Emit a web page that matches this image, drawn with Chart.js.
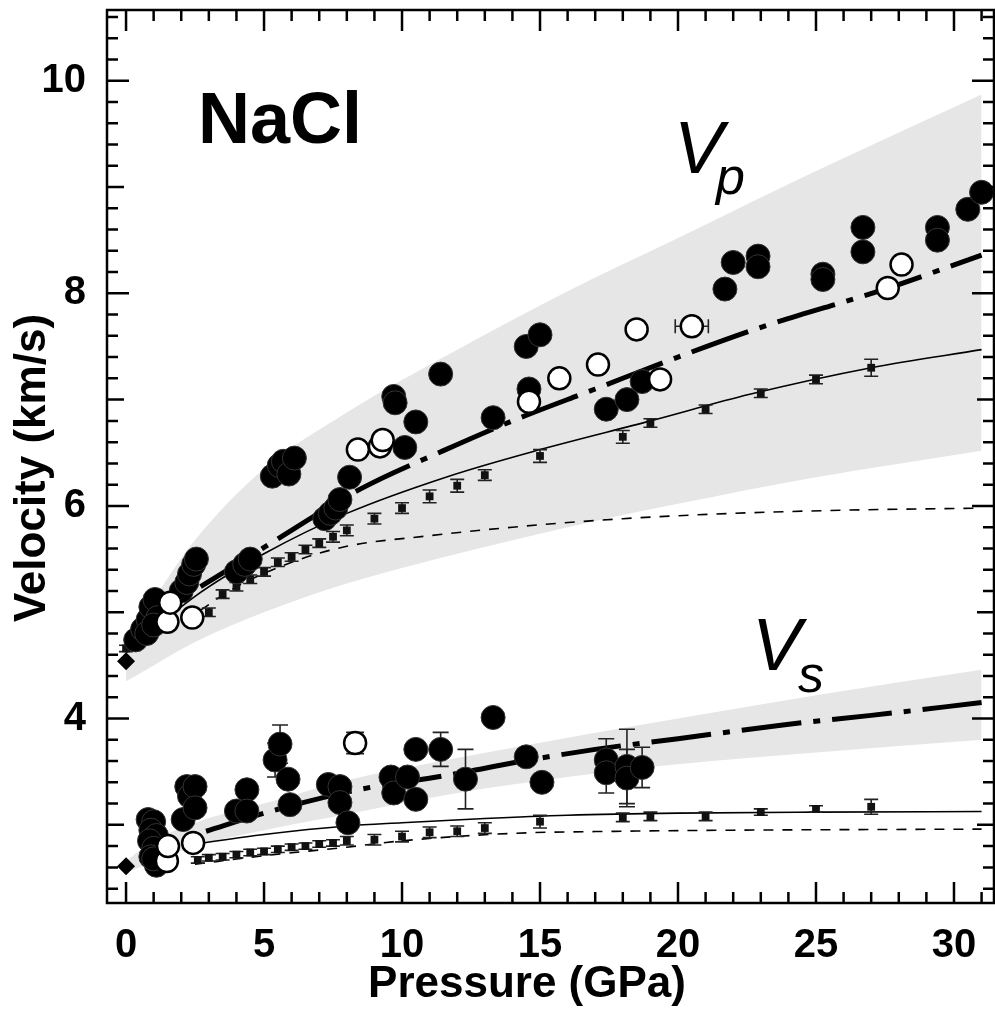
<!DOCTYPE html>
<html>
<head>
<meta charset="utf-8">
<script src="https://cdn.jsdelivr.net/npm/chart.js@4.4.0/dist/chart.umd.min.js"></script>
<style>
  html, body { margin: 0; padding: 0; background: #fff; overflow: hidden; }
  canvas { display: block; }
</style>
</head>
<body>
<canvas id="myChart" width="995" height="1011"></canvas>
<script>
// ---- data (Pressure GPa, Velocity km/s) ----
const xTicks = [0, 5, 10, 15, 20, 25, 30];
const yTicks = [4, 6, 8, 10];

// shaded uncertainty bands
const vpBandX = [0, 1, 2.5, 5, 8, 12, 16, 20, 25, 31];
const vpBandLow = [4.35, 4.5, 4.72, 5.0, 5.27, 5.55, 5.8, 6.02, 6.27, 6.52];
const vpBandHigh = [4.7, 5.12, 5.68, 6.35, 6.88, 7.47, 8.02, 8.52, 9.15, 9.87];
const vsBandX = [0, 1, 2.5, 5, 8, 12, 16, 20, 25, 31];
const vsBandLow = [2.55, 2.65, 2.8, 2.95, 3.1, 3.3, 3.45, 3.57, 3.68, 3.8];
const vsBandHigh = [2.66, 2.85, 3.02, 3.2, 3.42, 3.63, 3.82, 4.0, 4.22, 4.46];

// curves
const vpFitX = [2.7, 5, 8.5, 11.5, 14, 17, 20, 23, 27.5, 31];
const vpFit = [5.24, 5.61, 6.16, 6.52, 6.8, 7.1, 7.4, 7.68, 8.04, 8.36];
const vpSolidX = [0, 2.5, 5, 8, 11.7, 15, 19, 22.6, 27, 31];
const vpSolid = [4.62, 5.15, 5.55, 5.93, 6.28, 6.53, 6.8, 7.05, 7.3, 7.47];
const vpDashX = [2.7, 4, 6, 8, 11, 14, 18, 22, 26, 31];
const vpDash = [5.02, 5.24, 5.47, 5.62, 5.72, 5.8, 5.88, 5.93, 5.96, 5.98];
const vsFitX = [2.9, 5, 8.4, 11.5, 14.4, 17, 20, 23.8, 27, 31];
const vsFit = [2.94, 3.11, 3.33, 3.46, 3.6, 3.71, 3.81, 3.94, 4.03, 4.15];
const vsSolidX = [2.5, 5, 8, 10, 13, 16, 20, 25, 31];
const vsSolid = [2.82, 2.91, 2.99, 3.02, 3.06, 3.09, 3.11, 3.12, 3.125];
const vsDashX = [2.5, 5, 8, 10, 14, 18, 22, 26, 31];
const vsDash = [2.63, 2.71, 2.79, 2.85, 2.92, 2.94, 2.95, 2.955, 2.96];

// small squares with error bars
const sqVpX = [0, 3, 3.5, 4, 4.5, 5, 5.5, 6, 6.5, 7, 7.5, 8, 9, 10, 11, 12, 13, 15, 18, 19, 21, 23, 25, 27];
const sqVp = [4.66, 5.0, 5.17, 5.24, 5.31, 5.38, 5.47, 5.52, 5.59, 5.65, 5.71, 5.77, 5.88, 5.98, 6.09, 6.19, 6.29, 6.47, 6.65, 6.78, 6.91, 7.06, 7.19, 7.3];
const sqVpErr = [0.03, 0.04, 0.04, 0.04, 0.04, 0.04, 0.04, 0.04, 0.04, 0.04, 0.05, 0.05, 0.05, 0.05, 0.06, 0.06, 0.05, 0.06, 0.06, 0.04, 0.04, 0.04, 0.04, 0.08];
const sqVsX = [2.6, 3, 3.5, 4, 4.5, 5, 5.5, 6, 6.5, 7, 7.5, 8, 9, 10, 11, 12, 13, 15, 18, 19, 21, 23, 25, 27];
const sqVs = [2.67, 2.69, 2.7, 2.72, 2.74, 2.75, 2.77, 2.79, 2.8, 2.82, 2.83, 2.85, 2.86, 2.89, 2.93, 2.94, 2.97, 3.03, 3.07, 3.08, 3.08, 3.12, 3.15, 3.17];
const sqVsErr = [0.03, 0.03, 0.03, 0.03, 0.03, 0.03, 0.03, 0.03, 0.03, 0.03, 0.03, 0.04, 0.05, 0.05, 0.05, 0.05, 0.05, 0.06, 0.04, 0.04, 0.04, 0.03, 0.03, 0.07];

// ambient points (diamonds)
const diaX = [0, 0];
const diaY = [4.54, 2.61];

// filled circles
const vpFilledX = [0.35, 0.6, 0.8, 0.9, 1.05, 1.15, 0.75, 1.0, 2.0, 2.2, 2.3, 2.45, 2.55, 4.0, 4.3, 4.5, 5.3, 5.55, 5.7, 5.9, 6.1, 7.2, 7.4, 7.6, 7.75, 8.1, 9.7, 9.75, 10.1, 10.5, 11.4, 13.3, 14.5, 15.0, 14.6, 17.4, 18.15, 18.7, 21.7, 22.0, 22.9, 22.9, 25.25, 25.25, 26.7, 26.7, 29.4, 29.4, 30.5, 31.0];
const vpFilled = [4.74, 4.84, 4.93, 5.05, 5.12, 4.95, 4.8, 4.88, 5.2, 5.28, 5.36, 5.45, 5.5, 5.38, 5.45, 5.5, 6.28, 6.38, 6.42, 6.3, 6.45, 5.88, 5.93, 5.98, 6.06, 6.27, 7.03, 6.97, 6.55, 6.79, 7.24, 6.83, 7.5, 7.61, 7.1, 6.91, 7.0, 7.17, 8.04, 8.29, 8.35, 8.25, 8.18, 8.13, 8.62, 8.39, 8.62, 8.5, 8.79, 8.95];
const vsFilledX = [0.8, 1.0, 0.9, 1.1, 0.85, 1.0, 0.9, 1.1, 1.0, 2.07, 2.2, 2.3, 2.5, 2.5, 4.0, 4.38, 4.38, 5.4, 5.58, 5.87, 5.94, 7.33, 7.75, 7.75, 8.04, 9.6, 9.7, 10.2, 10.5, 10.5, 11.4, 12.3, 13.3, 14.5, 15.07, 17.4, 17.4, 18.15, 18.15, 18.7];
const vsFilled = [3.05, 3.03, 2.95, 2.9, 2.85, 2.78, 2.7, 2.62, 2.68, 3.05, 3.36, 3.27, 3.36, 3.16, 3.13, 3.33, 3.13, 3.61, 3.76, 3.43, 3.19, 3.38, 3.36, 3.21, 3.02, 3.45, 3.3, 3.45, 3.24, 3.71, 3.71, 3.43, 4.01, 3.64, 3.4, 3.61, 3.49, 3.55, 3.44, 3.54];
const vsFilledErr = [0, 0, 0, 0, 0, 0, 0, 0, 0, 0, 0, 0, 0, 0, 0, 0, 0, 0.16, 0.18, 0, 0, 0, 0, 0, 0, 0, 0, 0, 0, 0, 0.16, 0.28, 0, 0, 0, 0.2, 0.19, 0.35, 0.27, 0.19];

// open circles
const vpOpenX = [1.5, 1.6, 2.4, 8.4, 9.2, 9.3, 14.6, 15.7, 17.1, 18.5, 19.35, 20.5, 27.6, 28.1];
const vpOpen = [4.91, 5.09, 4.95, 6.53, 6.56, 6.62, 6.98, 7.2, 7.33, 7.66, 7.19, 7.69, 8.05, 8.27];
const vpOpenErrX = [0, 0, 0, 0, 0, 0, 0, 0, 0, 0, 0, 0.6, 0, 0];
const vsOpenX = [1.48, 1.52, 2.43, 8.3];
const vsOpen = [2.66, 2.8, 2.83, 3.77];
const vsOpenErr = [0, 0, 0, 0.1];

const FONT = '"Liberation Sans", Arial, Helvetica, sans-serif';
const BAND = '#e6e6e6';

const pts = (xs, ys) => xs.map((x, i) => ({ x: x, y: ys[i] }));

const bandLow = (xs, ys) => ({
  data: pts(xs, ys), showLine: true, pointRadius: 0, borderWidth: 0,
  borderColor: BAND, fill: false, cubicInterpolationMode: 'monotone', order: 20
});
const bandHigh = (xs, ys, target) => ({
  data: pts(xs, ys), showLine: true, pointRadius: 0, borderWidth: 0,
  borderColor: BAND, backgroundColor: BAND, fill: target,
  cubicInterpolationMode: 'monotone', order: 20
});
const curve = (xs, ys, width, dash) => ({
  data: pts(xs, ys), showLine: true, pointRadius: 0, borderWidth: width,
  borderColor: '#000', borderDash: dash, borderCapStyle: 'butt',
  cubicInterpolationMode: 'monotone', order: 10
});

// draws error bars under the markers of a dataset
const errorBars = {
  id: 'errorBars',
  beforeDatasetDraw(chart, args) {
    const ds = chart.data.datasets[args.index];
    if (!ds.errY && !ds.errX) return;
    const { ctx, scales: { x, y } } = chart;
    ctx.save();
    ctx.strokeStyle = '#222';
    ctx.lineWidth = 1.6;
    ds.data.forEach((p, i) => {
      const px = x.getPixelForValue(p.x);
      const py = y.getPixelForValue(p.y);
      const ey = ds.errY ? ds.errY[i] : 0;
      const ex = ds.errX ? ds.errX[i] : 0;
      const cap = ds.capSize || 7;
      ctx.beginPath();
      if (ey > 0) {
        const t = y.getPixelForValue(p.y + ey), b = y.getPixelForValue(p.y - ey);
        ctx.moveTo(px, t); ctx.lineTo(px, b);
        ctx.moveTo(px - cap, t); ctx.lineTo(px + cap, t);
        ctx.moveTo(px - cap, b); ctx.lineTo(px + cap, b);
      }
      if (ex > 0) {
        const l = x.getPixelForValue(p.x - ex), r = x.getPixelForValue(p.x + ex);
        ctx.moveTo(l, py); ctx.lineTo(r, py);
        ctx.moveTo(l, py - 7); ctx.lineTo(l, py + 7);
        ctx.moveTo(r, py - 7); ctx.lineTo(r, py + 7);
      }
      ctx.stroke();
    });
    ctx.restore();
  }
};

// box frame with inward ticks, axis titles and labels
const frame = {
  id: 'frame',
  afterDraw(chart) {
    const { ctx, chartArea: a, scales: { x, y } } = chart;
    ctx.save();
    ctx.strokeStyle = '#000';
    ctx.lineCap = 'butt';
    ctx.lineWidth = 2.5;
    ctx.strokeRect(a.left, a.top, a.right - a.left, a.bottom - a.top);
    ctx.beginPath();
    for (let v = 0; v <= 31; v++) {
      const px = x.getPixelForValue(v);
      const len = v % 5 === 0 ? 21 : 11;
      ctx.moveTo(px, a.bottom); ctx.lineTo(px, a.bottom - len);
      ctx.moveTo(px, a.top); ctx.lineTo(px, a.top + len);
    }
    for (let k = 12; k <= 53; k++) {
      const py = y.getPixelForValue(k / 5);
      const len = k % 10 === 0 ? 22 : (k % 5 === 0 ? 17 : 11);
      ctx.moveTo(a.left, py); ctx.lineTo(a.left + len, py);
      ctx.moveTo(a.right, py); ctx.lineTo(a.right - len, py);
    }
    ctx.stroke();

    ctx.fillStyle = '#000';
    ctx.textBaseline = 'alphabetic';
    ctx.textAlign = 'left';
    ctx.font = 'bold 72px ' + FONT;
    ctx.fillText('NaCl', 198, 143);

    ctx.font = 'italic 74px ' + FONT;
    ctx.fillText('V', 674, 173);
    ctx.font = 'italic 52px ' + FONT;
    ctx.fillText('p', 716, 194);
    ctx.font = 'italic 74px ' + FONT;
    ctx.fillText('V', 752, 670);
    ctx.font = 'italic 52px ' + FONT;
    ctx.fillText('s', 798, 692);

    ctx.font = 'bold 44px ' + FONT;
    ctx.textAlign = 'center';
    ctx.fillText('Pressure (GPa)', 527, 997);
    ctx.translate(33, 468);
    ctx.rotate(-Math.PI / 2);
    ctx.textBaseline = 'middle';
    ctx.fillText('Velocity (km/s)', 0, 0);
    ctx.restore();
  }
};

const tickFont = { family: FONT, size: 40, weight: 'bold' };

new Chart(document.getElementById('myChart'), {
  type: 'scatter',
  data: {
    datasets: [
      bandLow(vpBandX, vpBandLow),
      bandHigh(vpBandX, vpBandHigh, 0),
      bandLow(vsBandX, vsBandLow),
      bandHigh(vsBandX, vsBandHigh, 2),
      curve(vpDashX, vpDash, 1.6, [10, 9]),
      curve(vpSolidX, vpSolid, 1.6, []),
      curve(vpFitX, vpFit, 5, [60, 12, 7, 12]),
      curve(vsDashX, vsDash, 1.6, [10, 9]),
      curve(vsSolidX, vsSolid, 1.6, []),
      curve(vsFitX, vsFit, 5, [60, 12, 7, 12]),
      {
        data: pts(sqVpX, sqVp), errY: sqVpErr, capSize: 7,
        pointStyle: 'rect', pointRadius: 5.5, backgroundColor: '#111', borderColor: '#111', borderWidth: 0, order: 5
      },
      {
        data: pts(sqVsX, sqVs), errY: sqVsErr, capSize: 7,
        pointStyle: 'rect', pointRadius: 5.5, backgroundColor: '#111', borderColor: '#111', borderWidth: 0, order: 5
      },
      {
        data: pts(diaX, diaY),
        pointStyle: 'rectRot', pointRadius: 9, backgroundColor: '#000', borderColor: '#000', borderWidth: 0, order: 4
      },
      {
        data: pts(vpFilledX, vpFilled),
        pointRadius: 12, backgroundColor: '#000', borderColor: '#333', borderWidth: 1, order: 3
      },
      {
        data: pts(vsFilledX, vsFilled), errY: vsFilledErr, capSize: 8,
        pointRadius: 12, backgroundColor: '#000', borderColor: '#333', borderWidth: 1, order: 3
      },
      {
        data: pts(vpOpenX, vpOpen), errX: vpOpenErrX,
        pointRadius: 11, backgroundColor: '#fff', borderColor: '#000', borderWidth: 2.5, order: 2
      },
      {
        data: pts(vsOpenX, vsOpen), errY: vsOpenErr, capSize: 9,
        pointRadius: 11, backgroundColor: '#fff', borderColor: '#000', borderWidth: 2.5, order: 2
      }
    ]
  },
  options: {
    responsive: false,
    animation: false,
    devicePixelRatio: 1,
    layout: { autoPadding: false, padding: { top: 10, right: 1, left: 0, bottom: 0 } },
    plugins: { legend: { display: false }, tooltip: { enabled: false } },
    scales: {
      x: {
        type: 'linear', min: -0.69, max: 31.45,
        afterFit: s => { s.height = 108; s.paddingLeft = 0; s.paddingRight = 0; },
        afterBuildTicks: s => { s.ticks = xTicks.map(v => ({ value: v })); },
        grid: { display: false }, border: { display: false },
        ticks: { font: tickFont, color: '#000', padding: 11, maxRotation: 0, autoSkip: false }
      },
      y: {
        type: 'linear', min: 2.265, max: 10.665,
        afterFit: s => { s.width = 107; s.paddingTop = 0; s.paddingBottom = 0; },
        afterBuildTicks: s => { s.ticks = yTicks.map(v => ({ value: v })); },
        grid: { display: false }, border: { display: false },
        ticks: { font: tickFont, color: '#000', padding: 13 }
      }
    }
  },
  plugins: [errorBars, frame]
});
</script>
</body>
</html>
